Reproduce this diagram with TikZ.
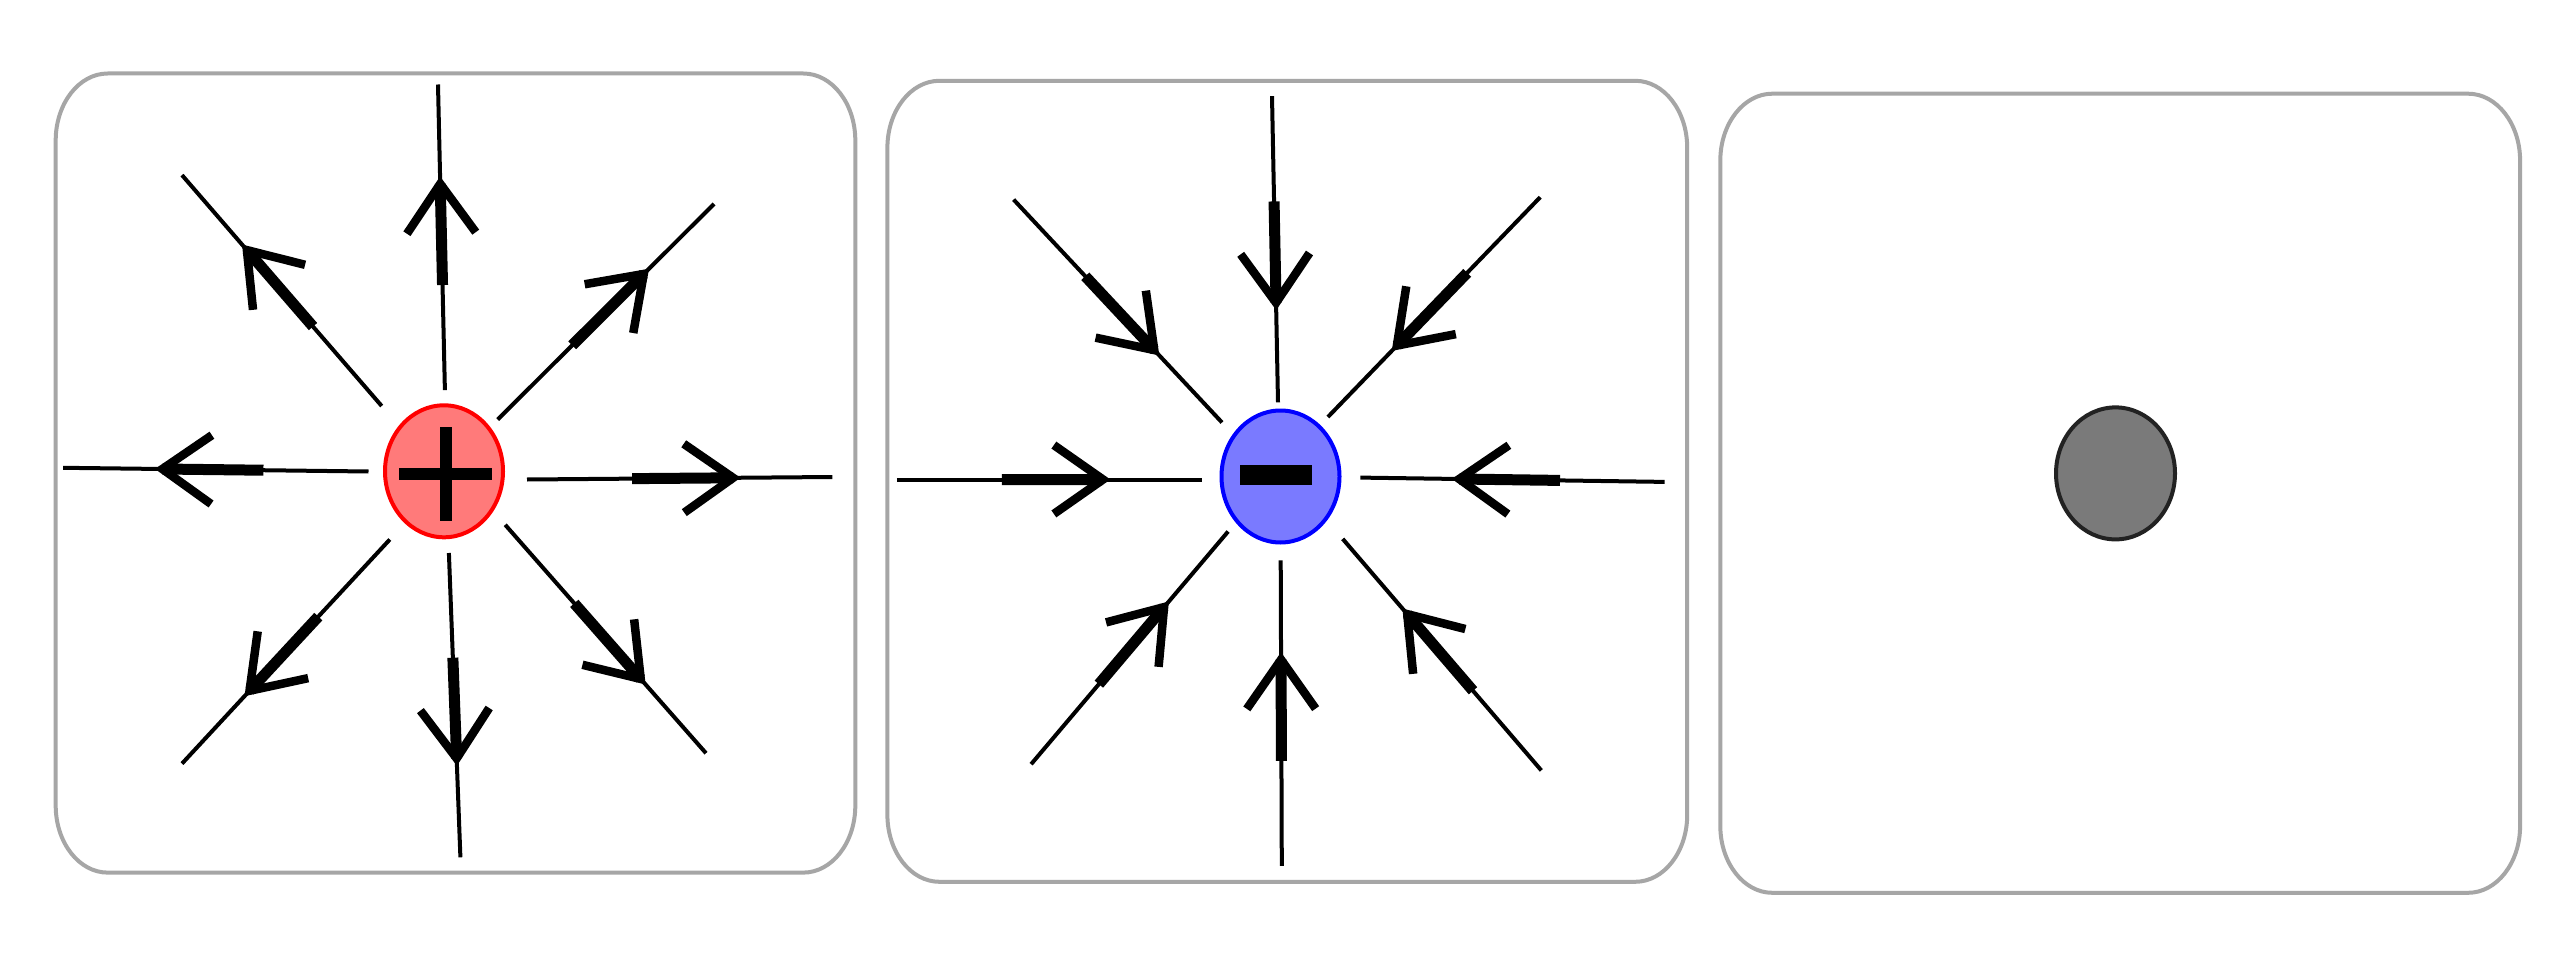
\documentclass[tikz,border=0pt]{standalone}
\usetikzlibrary{calc,shapes.geometric}
\definecolor{framegray}{RGB}{166,166,166}
\definecolor{posfill}{RGB}{255,122,122}
\definecolor{negfill}{RGB}{122,122,255}
\definecolor{neutfill}{RGB}{122,122,122}
\definecolor{neutdraw}{RGB}{34,34,34}
\newcommand\panelbox[4]{% x1 y1 x2 y2 (y downwards)
  \draw[frameline] (#1,{#2+67}) .. controls (#1,{#2+30}) and ({#1+23.3},#2) .. ({#1+52},#2)
    -- ({#3-52},#2) .. controls ({#3-23.3},#2) and (#3,{#2+30}) .. (#3,{#2+67})
    -- (#3,{#4-67}) .. controls (#3,{#4-30}) and ({#3-23.3},#4) .. ({#3-52},#4)
    -- ({#1+52},#4) .. controls ({#1+23.3},#4) and (#1,{#4-30}) .. (#1,{#4-67}) -- cycle;}
\newcommand\fieldline[3]{% from, to, name
  \draw[fieldthin] (#1) -- (#2);
  \coordinate (#3-tip) at ($(#1)!0.675!(#2)$);
  \coordinate (#3-tail) at ($(#1)!0.344!(#2)$);
  \draw[fieldthick] (#3-tail) -- (#3-tip);
  \draw[fieldwing] ($(#3-tip)!60pt!35:(#1)$) -- (#3-tip) -- ($(#3-tip)!60pt!-35:(#1)$);}
\begin{document}
\begin{tikzpicture}[x=1pt,y=-1pt,
  frameline/.style={draw=framegray,line width=4pt},
  fieldthin/.style={line width=4pt},
  fieldthick/.style={line width=11pt},
  fieldwing/.style={line width=8.5pt,line join=miter,miter limit=10},
  charge/.style={ellipse,inner sep=0pt,minimum width=118pt,minimum height=132pt,line width=4pt},
  signbar/.style={line width=12pt}]
\useasboundingbox[fill=white] (0,0) rectangle (2560,960);
% panels
\panelbox{55.7}{73.5}{855.3}{872.6}
\panelbox{887.4}{80.8}{1687.2}{881.8}
\panelbox{1720.3}{93.7}{2520.1}{892.8}
% charges
\node[charge,draw=red,fill=posfill] (q1) at (444,471.3) {};
\node[charge,draw=blue,fill=negfill] (q2) at (1280.5,476.5) {};
\node[charge,draw=neutdraw,fill=neutfill,minimum width=119pt] (q3) at (2115.5,473.4) {};
% plus sign
\draw[signbar] ($(q1)+(-45,2.7)$) -- ($(q1)+(48,2.7)$);
\draw[signbar] ($(q1)+(2,-44.3)$) -- ($(q1)+(2,49.7)$);
% minus sign
\draw[line width=20pt] ($(q2)+(-40.5,-1.3)$) -- ($(q2)+(31,-1.3)$);
% panel 1 coordinates (inner -> outer)
\coordinate (a-n-in) at (444.9,390.1);  \coordinate (a-n-out) at (438.0,84.5);
\coordinate (a-ne-in) at (497.7,419.5); \coordinate (a-ne-out) at (714.1,203.9);
\coordinate (a-e-in) at (527,479.5);    \coordinate (a-e-out) at (832.4,477);
\coordinate (a-se-in) at (505.2,524.8); \coordinate (a-se-out) at (706,753.2);
\coordinate (a-s-in) at (448.9,553);    \coordinate (a-s-out) at (460.4,857.3);
\coordinate (a-sw-in) at (389.8,539.5); \coordinate (a-sw-out) at (182,763.6);
\coordinate (a-w-in) at (368.5,471.5);  \coordinate (a-w-out) at (63.1,467.8);
\coordinate (a-nw-in) at (381.7,406);   \coordinate (a-nw-out) at (182,175.1);
\foreach \d in {n,ne,e,se,s,sw,w,nw}{\fieldline{a-\d-in}{a-\d-out}{a-\d}}
% panel 2 coordinates (outer -> inner)
\coordinate (b-n-in) at (1278,402.3);    \coordinate (b-n-out) at (1272,96.1);
\coordinate (b-ne-in) at (1327.9,417);   \coordinate (b-ne-out) at (1540.2,197.2);
\coordinate (b-e-in) at (1360.3,477.6);  \coordinate (b-e-out) at (1664.7,481.9);
\coordinate (b-se-in) at (1342.7,538.9); \coordinate (b-se-out) at (1541.3,770.4);
\coordinate (b-s-in) at (1280.7,560.3);  \coordinate (b-s-out) at (1281.8,865.9);
\coordinate (b-sw-in) at (1228.1,531.5); \coordinate (b-sw-out) at (1031.1,764.2);
\coordinate (b-w-in) at (1202.3,479.5);  \coordinate (b-w-out) at (896.8,479.5);
\coordinate (b-nw-in) at (1222,422.5);   \coordinate (b-nw-out) at (1013.6,199.6);
\foreach \d in {n,ne,e,se,s,sw,w,nw}{\fieldline{b-\d-out}{b-\d-in}{b-\d}}
\end{tikzpicture}
\end{document}
